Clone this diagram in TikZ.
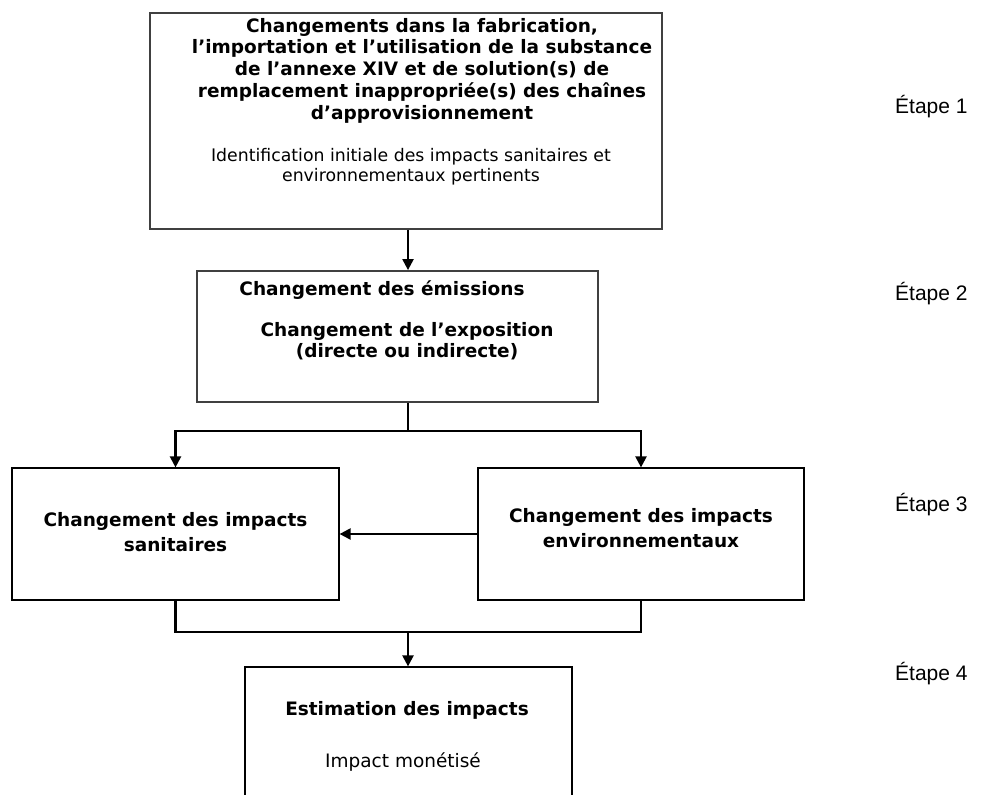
\documentclass[tikz,border=0pt]{standalone}
\usepackage{fontspec}
\setmainfont{DejaVu Sans}
\newfontfamily\stepfont{Liberation Sans}
\usetikzlibrary{arrows.meta}
\begin{document}
\begin{tikzpicture}[x=1pt,y=-1pt,
  boxA/.style={draw=black!75, line width=1.8pt, inner sep=0pt},
  boxB/.style={draw=black, line width=1.2pt, inner sep=0pt},
  head/.style={inner sep=0pt, anchor=north, align=center, text=black,
    font=\fontsize{18.5}{21.7}\selectfont\bfseries},
  headwide/.style={head, font=\fontsize{18.5}{25.7}\selectfont\bfseries},
  body/.style={inner sep=0pt, anchor=north, align=center, text=black,
    font=\fontsize{17.3}{20}\selectfont},
  steplabel/.style={inner sep=0pt, anchor=base west, text=black,
    font=\stepfont\fontsize{21}{25}\selectfont},
  link/.style={line width=2.2pt, draw=black},
  conn/.style={link, -{Triangle[length=11pt,width=11pt]}},
]
\useasboundingbox (0,0) rectangle (981,794);

% boxes
\node[boxA, minimum width=512pt, minimum height=216pt] (b1) at (406,121) {};
\node[boxA, minimum width=401pt, minimum height=131pt] (b2) at (397.5,336.5) {};
\node[boxB, minimum width=327pt, minimum height=132pt] (b3) at (175.5,534) {};
\node[boxB, minimum width=326pt, minimum height=132pt] (b4) at (641,534) {};
\begin{scope}
  \clip (0,0) rectangle (981,794);
  \node[boxB, minimum width=327pt, minimum height=163pt] (b5) at (408.5,748.5) {};
\end{scope}

% box texts
\node[head] (t1) at (422,18) {Changements dans la fabrication,\\
  l’importation et l’utilisation de la substance\\
  de l’annexe XIV et de solution(s) de\\
  remplacement inappropriée(s) des chaînes\\
  d’approvisionnement};
\node[body] (t1b) at (411,148.5) {Identification initiale des impacts sanitaires et\\
  environnementaux pertinents};
\node[head] (t2) at (382,281) {Changement des émissions};
\node[head] (t2b) at (407,322) {Changement de l’exposition\\(directe ou indirecte)};
\node[headwide] (t3) at (175.5,512) {Changement des impacts\\sanitaires};
\node[headwide] (t4) at (641,508) {Changement des impacts\\environnementaux};
\node[head] (t5) at (407,701) {Estimation des impacts};
\node[body, font=\fontsize{18.5}{21}\selectfont] (t5b) at (403,752.6) {Impact monétisé};

% step labels
\node[steplabel] (s1) at (895,114) {Étape 1};
\node[steplabel] (s2) at (895,300) {Étape 2};
\node[steplabel] (s3) at (895,511) {Étape 3};
\node[steplabel] (s4) at (895,680) {Étape 4};

% connectors
\coordinate (j1) at (408,431);
\coordinate (j2) at (408,632);
\draw[conn] (b1.south -| j1) -- (b2.north -| j1);
\draw[link] (b2.south -| j1) -- (j1);
\draw[conn] (j1) -| (b3.north);
\draw[conn] (j1) -| (b4.north);
\draw[conn] (b4.west) -- (b3.east);
\draw[link] (b3.south) |- (j2);
\draw[link] (b4.south) |- (j2);
\draw[conn] (j2) -- (b5.north -| j2);
\end{tikzpicture}
\end{document}
